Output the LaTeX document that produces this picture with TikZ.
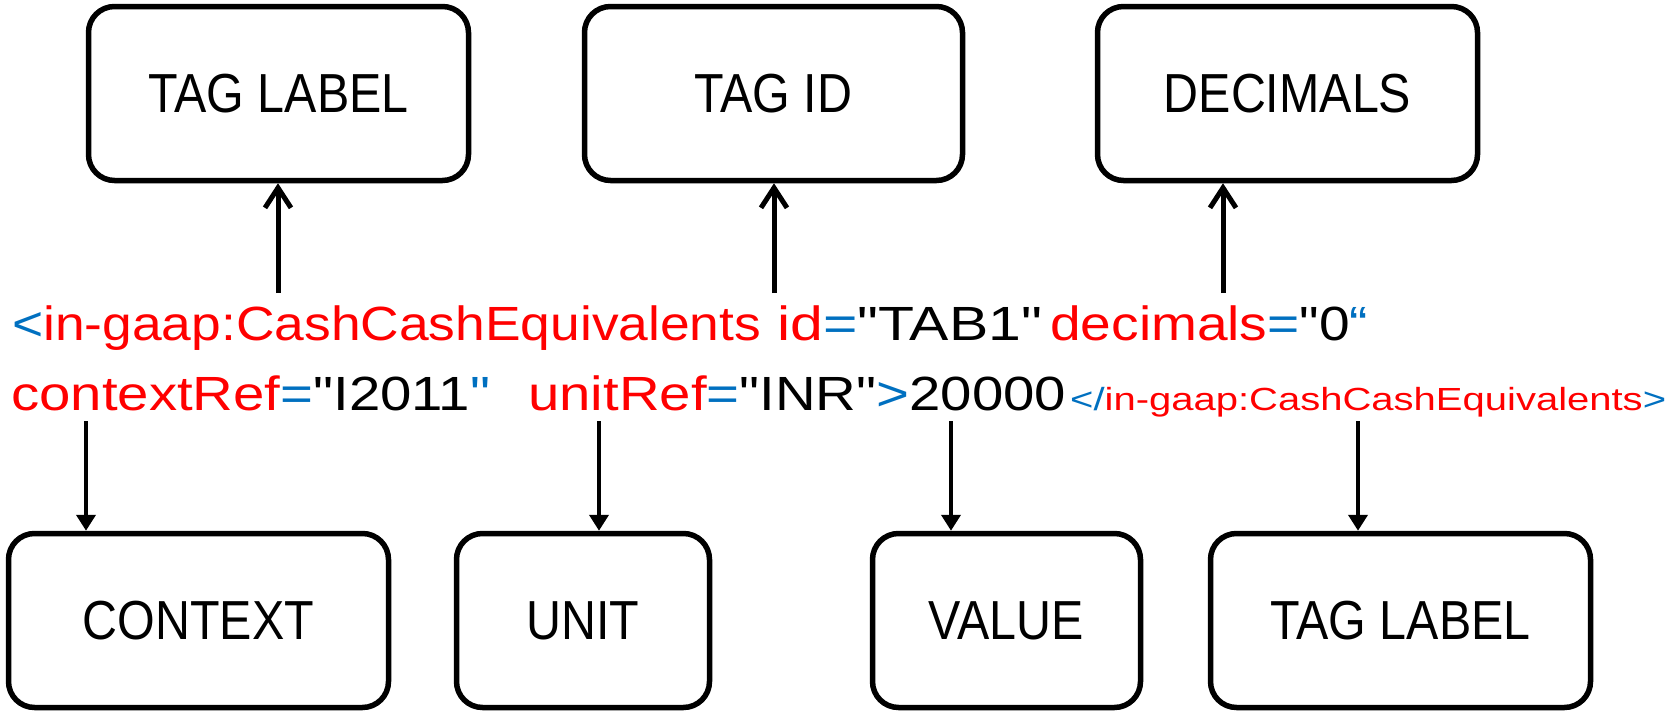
\documentclass[tikz,border=0pt]{standalone}
\usepackage{graphicx}
\usepackage{fontspec}
\setmainfont{Liberation Sans}
\newfontfamily\xf{Liberation Sans}
\usetikzlibrary{arrows.meta}
\definecolor{xred}{HTML}{FF0000}
\definecolor{xblue}{HTML}{0070C0}
\newcommand{\fitw}[2]{\resizebox{#1pt}{\height}{#2}}
\newcommand{\R}[1]{\textcolor{xred}{#1}}
\newcommand{\B}[1]{\textcolor{xblue}{#1}}
\begin{document}
\begin{tikzpicture}[x=1pt,y=-1pt,
  box/.style={draw, line width=5.5pt, rounded corners=26pt, minimum height=174pt, inner sep=0pt,
    font=\fontsize{55}{60}\selectfont},
  uparr/.style={line width=5pt, -{Straight Barb[length=20pt,width=26pt]}},
  downarr/.style={line width=4.5pt, -{Triangle[length=16pt,width=19pt]}},
  xml/.style={anchor=base west, inner sep=0pt, font=\xf\fontsize{48}{50}\selectfont},
  xmls/.style={anchor=base west, inner sep=0pt, font=\xf\fontsize{32}{36}\selectfont}]
\useasboundingbox[fill=white] (0,0) rectangle (1668,712);

% top boxes
\node[box, minimum width=380pt] (tl)  at (278.5,93.5)  {\scalebox{0.88}[1]{TAG LABEL}};
\node[box, minimum width=378pt] (tid) at (773.5,93.5)  {\scalebox{0.88}[1]{TAG ID}};
\node[box, minimum width=380pt] (dec) at (1287.5,93.5) {\scalebox{0.88}[1]{DECIMALS}};

% bottom boxes
\node[box, minimum width=380pt] (ctx) at (198.5,620.5)  {\scalebox{0.88}[1]{CONTEXT}};
\node[box, minimum width=253pt] (unit) at (583,620.5)   {\scalebox{0.88}[1]{UNIT}};
\node[box, minimum width=268pt] (val) at (1006.5,620.5) {\scalebox{0.88}[1]{VALUE}};
\node[box, minimum width=380pt] (tl2) at (1400.5,620.5) {\scalebox{0.88}[1]{TAG LABEL}};

% XML text, line 1
\node[xml] (l1a) at (12,340)   {\fitw{749}{\B{<}\R{in-gaap:CashCashEquivalents}}};
\node[xml] (l1b) at (777,340)  {\fitw{265}{\R{id}\B{=}"TAB1"}};
\node[xml] (l1c) at (1050,340) {\fitw{318}{\R{decimals}\B{=}"0\B{“}}};
% XML text, line 2
\node[xml] (l2a) at (11,410)   {\fitw{479}{\R{contextRef}\B{=}"I2011\B{"}}};
\node[xml] (l2b) at (528,410)  {\fitw{538}{\R{unitRef}\B{=}"INR"\B{>}20000}};
\node[xmls] (l2c) at (1070,410) {\fitw{596}{\B{</}\R{in-gaap:CashCashEquivalents}\B{>}}};

% arrows up
\coordinate (a1) at (278,293);
\coordinate (a2) at (774,293);
\coordinate (a3) at (1223,293);
\draw[uparr] (a1) -- (a1 |- tl.south);
\draw[uparr] (a2) -- (a2 |- tid.south);
\draw[uparr] (a3) -- (a3 |- dec.south);

% arrows down
\coordinate (b1) at (86,421);
\coordinate (b2) at (599,421);
\coordinate (b3) at (951,421);
\coordinate (b4) at (1358,421);
\draw[downarr] (b1) -- (b1 |- ctx.north);
\draw[downarr] (b2) -- (b2 |- unit.north);
\draw[downarr] (b3) -- (b3 |- val.north);
\draw[downarr] (b4) -- (b4 |- tl2.north);
\end{tikzpicture}
\end{document}
